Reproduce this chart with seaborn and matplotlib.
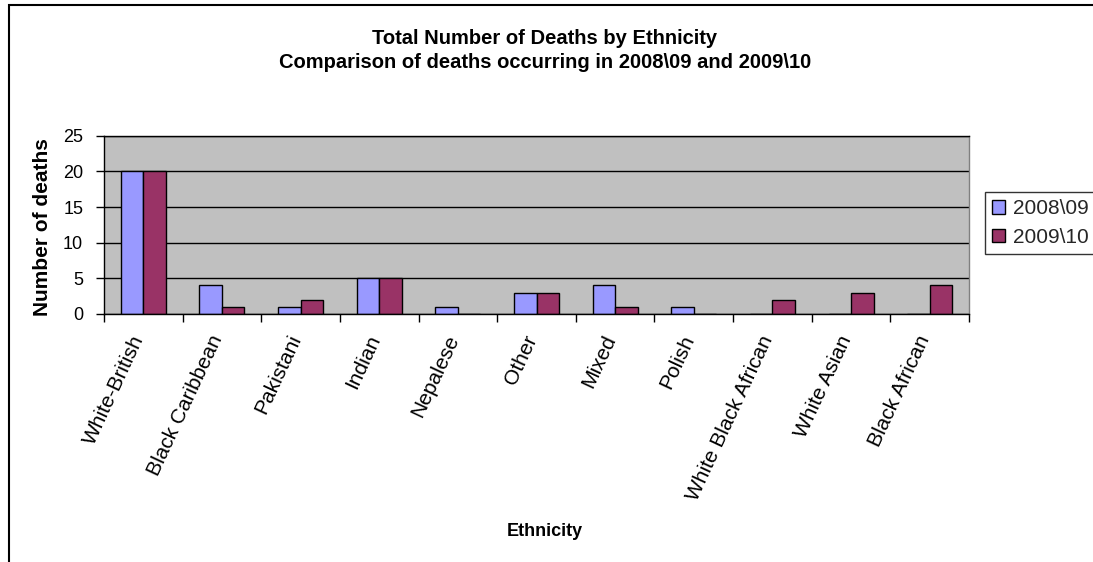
import matplotlib
matplotlib.use('Agg')
import matplotlib.pyplot as plt
import seaborn as sns
import pandas as pd
import numpy as np
from matplotlib.patches import Rectangle
from matplotlib.transforms import ScaledTranslation

categories = ['White-British', 'Black Caribbean', 'Pakistani', 'Indian', 'Nepalese',
              'Other', 'Mixed', 'Polish', 'White Black African', 'White Asian', 'Black African']
deaths_2008_09 = [20, 4, 1, 5, 1, 3, 4, 1, 0, 0, 0]
deaths_2009_10 = [20, 1, 2, 5, 0, 3, 1, 0, 2, 3, 4]
series = ['2008\\09', '2009\\10']
colors = ['#9999FF', '#993366']
y_ticks = [0, 5, 10, 15, 20, 25]

df = pd.DataFrame({
    'Ethnicity': categories * 2,
    'Deaths': deaths_2008_09 + deaths_2009_10,
    'Year': [series[0]] * len(categories) + [series[1]] * len(categories),
})

sns.set_theme(style='white')
plt.rcParams['font.family'] = ['Liberation Sans', 'DejaVu Sans']

W, H = 1093, 562
fig = plt.figure(figsize=(W / 100, H / 100), dpi=100)
fig.patch.set_facecolor('white')

L, R, T, B = 104, 969, 135.7, 314
ax = fig.add_axes([L / W, 1 - B / H, (R - L) / W, (B - T) / H])

sns.barplot(data=df, x='Ethnicity', y='Deaths', hue='Year', palette=colors,
            width=2 / 3.5, edgecolor='black', linewidth=1, saturation=1,
            gap=0, legend=False, ax=ax)

ax.set_facecolor('#C0C0C0')
ax.set_ylim(0, 25)
ax.set_xlim(-0.5, len(categories) - 0.5)
ax.set_yticks(y_ticks)
ax.yaxis.grid(True, color='black', linewidth=1)
ax.xaxis.grid(False)
ax.set_axisbelow(True)
ax.set_xlabel('')
ax.set_ylabel('')

for s in ['left', 'bottom', 'top']:
    ax.spines[s].set_color('black')
    ax.spines[s].set_linewidth(1)
ax.spines['right'].set_color('#808080')
ax.spines['right'].set_linewidth(1)

# category boundary ticks (major) and labels at centers (minor)
ax.set_xticks(np.arange(-0.5, len(categories)), labels=[''] * (len(categories) + 1))
ax.set_xticks(np.arange(len(categories)), labels=categories, minor=True)
ax.tick_params(axis='x', which='major', direction='out', length=6, width=1, color='black', bottom=True)
ax.tick_params(axis='x', which='minor', length=0, pad=13, labelsize=15, labelcolor='black')
shift = ScaledTranslation(-13 / 100, 0, fig.dpi_scale_trans)
for lbl in ax.get_xticklabels(minor=True):
    lbl.set_rotation(65)
    lbl.set_ha('right')
    lbl.set_va('top')
    lbl.set_rotation_mode('anchor')
    lbl.set_transform(lbl.get_transform() + shift)
ax.tick_params(axis='y', direction='out', length=6, width=1, color='black', left=True,
               labelsize=13, labelcolor='black', pad=9)

# legend
handles = [Rectangle((0, 0), 1, 1, facecolor=c, edgecolor='black', linewidth=1) for c in colors]
leg = fig.legend(handles, series, loc='upper left', bbox_to_anchor=(985 / W, 1 - 192 / H),
                 bbox_transform=fig.transFigure, borderaxespad=0, frameon=True,
                 fancybox=False, shadow=False, fontsize=15, handlelength=0.6,
                 handleheight=0.6, handletextpad=0.4, labelspacing=0.45, borderpad=0.35)
leg.get_frame().set_edgecolor('black')
leg.get_frame().set_linewidth(1)

# titles
fig.text(545 / W, 1 - 39 / H, 'Total Number of Deaths by Ethnicity', ha='center', va='center',
         fontsize=14.5, fontweight='bold', color='black')
fig.text(545 / W, 1 - 62 / H, 'Comparison of deaths occurring in 2008\\09 and 2009\\10',
         ha='center', va='center', fontsize=14.5, fontweight='bold', color='black')
fig.text(43 / W, 1 - 227 / H, 'Number of deaths', ha='center', va='center', rotation=90,
         fontsize=15, fontweight='bold', color='black')
fig.text(545 / W, 1 - 531 / H, 'Ethnicity', ha='center', va='center',
         fontsize=13, fontweight='bold', color='black')

# chart border
fig.add_artist(Rectangle((9 / W, -0.1), 1.2, 1 - 5 / H + 0.1, transform=fig.transFigure,
                         fill=False, edgecolor='black', linewidth=1.5))

fig.savefig('out.png', dpi=100, facecolor='white')
